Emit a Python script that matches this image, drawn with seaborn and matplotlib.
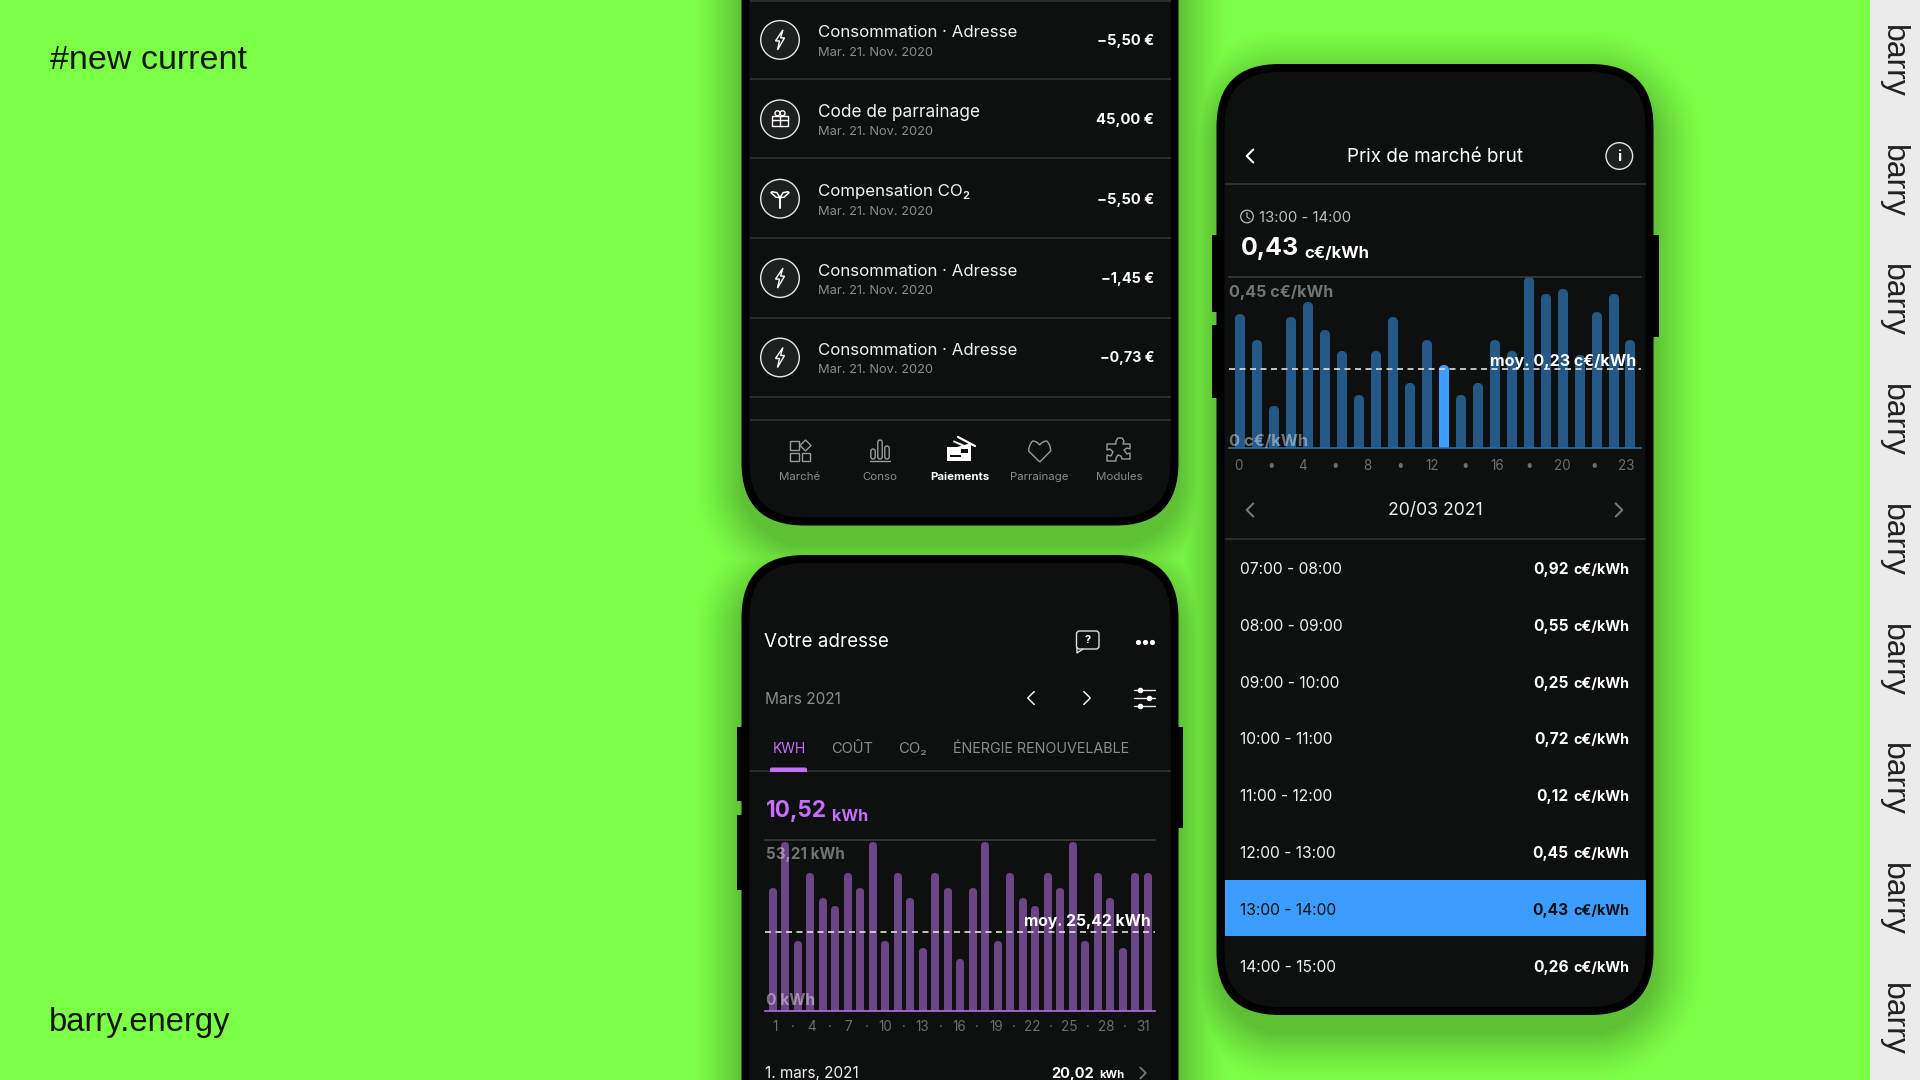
import numpy as np
import matplotlib
matplotlib.use("Agg")
import matplotlib.pyplot as plt
from matplotlib.patches import FancyBboxPatch, Circle, Polygon, Rectangle, PathPatch
from matplotlib.path import Path
import seaborn as sns

# ------------------ data ------------------
HOURS = list(range(24))
PRICES = [0.354, 0.286, 0.113, 0.345, 0.384, 0.312, 0.256, 0.142, 0.256, 0.345, 0.173, 0.286,
          0.221, 0.142, 0.173, 0.286, 0.256, 0.450, 0.405, 0.419, 0.247, 0.360, 0.405, 0.286]
PRICE_LINE = 0.207
PRICE_TICKS = ["0", "•", "4", "•", "8", "•", "12", "•", "16", "•", "20", "•", "23"]
DAYS = list(range(1, 32))
KWH = [38.9, 53.21, 22.2, 43.6, 35.7, 33.2, 43.6, 38.9, 53.21, 22.2, 43.6, 35.7, 20.0, 43.6, 38.9, 16.4,
       38.9, 53.21, 22.2, 43.6, 35.7, 33.2, 43.6, 38.9, 53.21, 22.2, 43.6, 35.7, 20.0, 43.6, 43.6]
KWH_LINE = 24.8
KWH_TICKS = ["1", "·", "4", "·", "7", "·", "10", "·", "13", "·", "16", "·", "19", "·", "22", "·", "25", "·", "28", "·", "31"]
TX_TITLES = ["Consommation · Adresse", "Code de parrainage", "Compensation CO₂", "Consommation · Adresse", "Consommation · Adresse"]
TX_AMOUNTS = ["−5,50 €", "45,00 €", "−5,50 €", "−1,45 €", "−0,73 €"]
TX_ICONS = ["bolt", "gift", "leaf", "bolt", "bolt"]
NAV = ["Marché", "Conso", "Paiements", "Parrainage", "Modules"]
SLOTS = ["07:00 - 08:00", "08:00 - 09:00", "09:00 - 10:00", "10:00 - 11:00", "11:00 - 12:00", "12:00 - 13:00", "13:00 - 14:00", "14:00 - 15:00"]
SLOT_VALUES = ["0,92", "0,55", "0,25", "0,72", "0,12", "0,45", "0,43", "0,26"]

# ------------------ styles ------------------
W, H = 1920, 1080
GREEN = np.array([0x7C, 0xFF, 0x47]) / 255
SCREEN = "#0E1010"
DIV = "#333535"
GREY = "#8C8C8C"
PURPLE = "#C56EFF"
BLUE = "#3B9DFF"
sns.set_theme(style="dark", rc={"axes.grid": False})
plt.rcParams["font.family"] = ["Inter", "DejaVu Sans"]

fig = plt.figure(figsize=(W / 100, H / 100), dpi=100)


def full_axes(z):
    a = fig.add_axes([0, 0, 1, 1], zorder=z)
    a.set_xlim(0, W)
    a.set_ylim(H, 0)
    a.axis("off")
    a.patch.set_alpha(0)
    return a


bg = full_axes(0)
fg = full_axes(2)

# background with soft phone shadows
yy, xx = np.mgrid[0:H, 0:W]


def sd_round(x0, y0, x1, y1, r):
    cx, cy = (x0 + x1) / 2, (y0 + y1) / 2
    qx = np.abs(xx - cx) - (x1 - x0) / 2 + r
    qy = np.abs(yy - cy) - (y1 - y0) / 2 + r
    return np.hypot(np.maximum(qx, 0), np.maximum(qy, 0)) + np.minimum(np.maximum(qx, qy), 0) - r


d = np.minimum.reduce([
    sd_round(741, -120, 1179, 545, 63),
    sd_round(741, 570, 1179, 1300, 63),
    sd_round(1217, 78, 1654, 1032, 63),
])
a = 0.24 * np.clip(1 - d / 48, 0, 1) ** 1.3
img = GREEN[None, None, :] * (1 - a[..., None])
bg.imshow(img, extent=(0, W, H, 0), aspect="auto", zorder=0, interpolation="nearest")
bg.set_xlim(0, W)
bg.set_ylim(H, 0)
bg.add_patch(Rectangle((1870, 0), 50, H, fc="#EBEBEB", ec="none", zorder=1))


def rrect(x0, y0, x1, y1, r, color, ax=bg, z=2):
    ax.add_patch(FancyBboxPatch((x0, y0), x1 - x0, y1 - y0, boxstyle=f"round,pad=0,rounding_size={r}",
                                fc=color, ec="none", zorder=z))


def phone(x0, y0, x1, y1, buttons):
    for bx0, by0, bx1, by1 in buttons:
        bg.add_patch(Rectangle((bx0, by0), bx1 - bx0, by1 - by0, fc="black", ec="none", zorder=2))
    rrect(x0, y0, x1, y1, 63, "black", z=3)
    rrect(x0 + 8, y0 + 8, x1 - 8, y1 - 8, 55, SCREEN, z=4)


phone(741.5, -120, 1178.5, 525.5, [])
phone(741.5, 555, 1178.5, 1300, [(737, 727, 742, 801), (737, 815, 742, 890), (1178, 727, 1183, 828)])
phone(1216.5, 64, 1653.5, 1015, [(1212, 235, 1217, 312), (1212, 325, 1217, 398), (1653, 235, 1659, 337)])

renderer = fig.canvas.get_renderer()


def T(x, y, s, px, color="white", weight="normal", ha="left", va="center", w=None, rot=0, family=None, ax=fg):
    kw = {"family": family} if family else {}
    if va == "center" and rot == 0:
        y = y + 1.3
    t = ax.text(x, y, s, fontsize=px * 0.72, color=color, fontweight=weight, ha=ha, va=va,
                rotation=rot, zorder=10, **kw)
    if w:
        t.set_fontsize(t.get_fontsize() * w / t.get_window_extent(renderer).width)
    return t


def L(xs, ys, color="white", lw=1.0, z=9):
    fg.plot(xs, ys, color=color, lw=lw, solid_capstyle="round", solid_joinstyle="round", zorder=z)


def hline(y, x0, x1, color=DIV, lw=1.1):
    fg.plot([x0, x1], [y, y], color=color, lw=lw, zorder=6, solid_capstyle="butt")


def chevron(x, y, s, color="white", lw=1.3):
    # s > 0 points right, s < 0 points left
    L([x - s * 0.5, x + s * 0.5, x - s * 0.5], [y - abs(s), y, y + abs(s)], color, lw)


# ------------------ left + strip texts ------------------
T(50, 69, "#new current", 34, "#111611", va="baseline", w=197, family="Liberation Sans", ax=bg).set_zorder(6)
T(48.5, 1031.5, "barry.energy", 32, "#111611", va="baseline", w=181, family="Liberation Sans", ax=bg).set_zorder(6)
for i in range(9):
    T(1893, 61.5 + 119.7 * i, "barry", 32, "#222222", ha="center", rot=270, family="Liberation Sans")

# ------------------ top phone ------------------
DIV_Y = [0.5, 78.8, 158.2, 238, 317.8, 397, 419.5]
for y in DIV_Y:
    hline(y, 749.5, 1170.5)


def icon_bolt(cx, cy):
    pts = [(3, -10), (-4.5, 1), (-0.5, 1), (-2.5, 10), (4.5, -2), (0.5, -2)]
    fg.add_patch(Polygon([(cx + p, cy + q) for p, q in pts], closed=True, fc="none", ec="white", lw=1, zorder=9))


def icon_gift(cx, cy):
    fg.add_patch(Rectangle((cx - 8, cy - 3), 16, 10, fc="none", ec="white", lw=1, zorder=9))
    L([cx - 8, cx + 8], [cy + 1, cy + 1])
    L([cx, cx], [cy - 3, cy + 7])
    fg.add_patch(Circle((cx - 2.5, cy - 6), 2.5, fc="none", ec="white", lw=1, zorder=9))
    fg.add_patch(Circle((cx + 2.5, cy - 6), 2.5, fc="none", ec="white", lw=1, zorder=9))


def icon_leaf(cx, cy):
    L([cx, cx], [cy - 1, cy + 9], lw=1.4)
    L([cx, cx - 4, cx - 9, cx - 8, cx - 3, cx], [cy - 1, cy - 1.5, cy - 6, cy - 7, cy - 6, cy - 1], lw=1.1)
    L([cx, cx + 4, cx + 9, cx + 8, cx + 3, cx], [cy - 1, cy - 1.5, cy - 6, cy - 7, cy - 6, cy - 1], lw=1.1)


ICONS = {"bolt": icon_bolt, "gift": icon_gift, "leaf": icon_leaf}
TITLE_W = [199, 161, 152, 199, 199]
AMOUNT_W = [57, 58, 57, 53, 54.5]
for i, (title, amt, ic) in enumerate(zip(TX_TITLES, TX_AMOUNTS, TX_ICONS)):
    base = 79.4 * i
    fg.add_patch(Circle((780, 39.9 + base), 19.3, fc="#1E2020", ec="#E8E8E8", lw=1, zorder=8))
    ICONS[ic](780, 39.9 + base)
    T(817.7, 31.5 + base, title, 17, "#F2F2F2", w=TITLE_W[i])
    T(817.7, 51.5 + base, "Mar. 21. Nov. 2020", 14, GREY, w=116)
    T(1154.3, 39.5 + base, amt, 16, "white", "bold", ha="right", w=AMOUNT_W[i])

NAV_X = [800, 880, 960, 1039.7, 1119]
for x, lab in zip(NAV_X, NAV):
    active = lab == "Paiements"
    T(x, 475.6, lab, 11.5, "white" if active else GREY, "bold" if active else "normal", ha="center")
g = "#9A9A9A"
# market icon
cx, cy = NAV_X[0], 451
fg.add_patch(Rectangle((cx - 10, cy - 10), 8.5, 8.5, fc="none", ec=g, lw=1, zorder=9))
fg.add_patch(Rectangle((cx - 10, cy + 1.5), 8.5, 8.5, fc="none", ec=g, lw=1, zorder=9))
fg.add_patch(Rectangle((cx + 1.5, cy + 1.5), 8.5, 8.5, fc="none", ec=g, lw=1, zorder=9))
fg.add_patch(Polygon([(cx + 5.5, cy - 11), (cx + 11, cy - 5.5), (cx + 5.5, cy), (cx, cy - 5.5)], fc="none", ec=g, lw=1, zorder=9))
# conso icon
cx = NAV_X[1]
for dx, top in ((-7, -2), (0, -11), (7, -5)):
    fg.add_patch(FancyBboxPatch((cx + dx - 2.2, cy + top), 4.4, 8 - top, boxstyle="round,pad=0,rounding_size=2.2",
                                fc="none", ec=g, lw=1, zorder=9))
L([cx - 10, cx + 10], [cy + 10, cy + 10], g, 1)
# payments icon
cx = NAV_X[2]
fg.add_patch(Polygon([(cx - 13, cy - 4), (cx - 3, cy - 4), (cx + 8, cy - 7), (cx + 11, cy - 7), (cx + 11, cy + 10), (cx - 13, cy + 10)],
                     fc="white", ec="none", zorder=9))
fg.add_patch(Rectangle((cx - 10, cy + 4), 11, 1.8, fc=SCREEN, ec="none", zorder=10))
fg.add_patch(Rectangle((cx + 1, cy - 2), 7, 4, fc=SCREEN, ec="none", zorder=10))
L([cx - 2, cx + 15], [cy - 14, cy - 5], "white", 1.6)
L([cx - 6, cx + 9], [cy - 9.5, cy - 3], "white", 1.4)
# heart icon
cx = NAV_X[3]
t = np.array([(0, 11), (-11, 0), (-11, -6), (-7, -10), (-3, -10), (0, -6), (3, -10), (7, -10), (11, -6), (11, 0), (0, 11)], float)
codes = [Path.MOVETO, Path.LINETO, Path.CURVE3, Path.CURVE3, Path.CURVE3, Path.CURVE3, Path.CURVE3, Path.CURVE3, Path.CURVE3, Path.LINETO, Path.LINETO]
fg.add_patch(PathPatch(Path(t + [cx, cy], codes), fc="none", ec=g, lw=1, zorder=9))
# puzzle icon
cx = NAV_X[4]
pz = [(-3, -10), (-1, -13), (3, -13), (5, -10), (4, -7), (11, -7), (11, -2), (8, -3), (5, -1), (8, 3), (11, 2), (11, 8),
      (3, 8), (2, 5), (-1, 4), (-3, 7), (-3, 10), (-12, 10), (-12, 4), (-8, 5), (-6, 1), (-9, -2), (-12, -1), (-12, -7), (-3, -7)]
fg.add_patch(Polygon([(cx + p, cy + q) for p, q in pz], closed=True, fc="none", ec=g, lw=1, joinstyle="round", zorder=9))

# ------------------ bottom phone ------------------
T(764.5, 640.5, "Votre adresse", 19, "white", w=125)
T(765, 698, "Mars 2021", 16, GREY, w=76)
rrect(1076.5, 631, 1099, 649, 3, "none", ax=fg)
fg.patches[-1].set(ec="#E0E0E0", lw=1)
L([1077, 1077, 1083], [648, 653, 649], "#E0E0E0", 1)
T(1088, 639, "?", 11, "white", "bold", ha="center")
fg.scatter([1138, 1145, 1152], [641.5] * 3, s=14, color="white", zorder=9, linewidths=0)
chevron(1031, 698, -6.5, "white", 1)
chevron(1087, 698, 6.5, "white", 1)
for y, x in ((690, 1140), (698, 1149), (706, 1140)):
    L([1134, 1155], [y, y], "#E8E8E8", 1)
    fg.scatter([x], [y], s=16, color="white", zorder=10, linewidths=0)
T(772.3, 748, "KWH", 13, PURPLE, w=33)
T(830.7, 748, "COÛT", 13, GREY, w=42)
T(898.3, 748, "CO₂", 13, GREY, w=29)
T(953, 748, "ÉNERGIE RENOUVELABLE", 13, GREY, w=176)
hline(771, 749.5, 1170.5)
rrect(770, 767.5, 807, 775, 2, PURPLE, ax=fg, z=7)
fg.add_patch(Rectangle((765, 771.5), 50, 8, fc=SCREEN, ec="none", zorder=8))
T(765.5, 810, "10,52", 26, PURPLE, "bold", w=61)
T(832.3, 820.7, "kWh", 17, PURPLE, "bold", va="baseline", w=36)
T(765, 1072.5, "1. mars, 2021", 16, "#EFEFEF", w=94)
T(1094, 1072.5, "20,02", 16, "white", "bold", ha="right", w=43)
T(1099, 1074, "kWh", 13, "white", "bold", w=25)
chevron(1143, 1073, 5.5, "#777777", 1.3)

# ------------------ right phone ------------------
T(1435, 156, "Prix de marché brut", 19, "white", ha="center", w=176)
chevron(1250, 156, -6.5, "white", 1.5)
fg.add_patch(Circle((1619.3, 156), 13.3, fc="#1E2020", ec="#E8E8E8", lw=1, zorder=8))
T(1619.3, 156, "i", 15, "white", "bold", ha="center")
hline(184, 1224.5, 1645.5, lw=1.3)
fg.add_patch(Circle((1247, 216.5), 6.3, fc="none", ec="#BDBDBD", lw=0.9, zorder=9))
L([1247, 1247, 1250], [212.5, 217, 219], "#BDBDBD", 0.8)
T(1259, 217, "13:00 - 14:00", 16, "#BDBDBD", w=93)
T(1240.7, 247.5, "0,43", 28, "white", "bold", w=58)
T(1304, 258, "c€/kWh", 17, "white", "bold", va="baseline", w=65)
T(1435, 509.6, "20/03 2021", 18, "#EFEFEF", ha="center", w=95)
chevron(1250, 510, -6.5, "#777777", 1.5)
chevron(1619, 510, 6.5, "#777777", 1.5)
hline(539.3, 1224.5, 1645.5)
fg.add_patch(Rectangle((1224.5, 879.6), 421, 56.8, fc=BLUE, ec="none", zorder=6))
for i, (slot, val) in enumerate(zip(SLOTS, SLOT_VALUES)):
    y = 568.2 + 56.8 * i
    c = "#0E1010" if slot.startswith("13") else "#EFEFEF"
    c2 = "#0E1010" if slot.startswith("13") else "white"
    T(1240.3, y, slot, 15.6, c)
    T(1568.5, y, val, 15.5, c2, "bold", ha="right")
    T(1629.3, y + 0.5, "c€/kWh", 14, c2, "bold", ha="right", w=56)


# ------------------ charts ------------------
def chart(box, xdata, ydata, ymax, color, spine, line, bar_px, ticks, tick_span, xlim, tick_px, pad_pt, tick_color):
    x0, y0, x1, y1 = box
    ax = fig.add_axes([x0 / W, 1 - y1 / H, (x1 - x0) / W, (y1 - y0) / H], zorder=1)
    ax.patch.set_alpha(0)
    px_per_cat = (x1 - x0) / (xlim[1] - xlim[0])
    lw_px = bar_px - 1
    sns.barplot(x=xdata, y=ydata, color=color, saturation=1, width=1 / px_per_cat, ax=ax,
                linewidth=lw_px * 0.72, edgecolor=color)
    ax.set_xlim(*xlim)
    ax.set_ylim(0, ymax)
    r = (lw_px / 2) * ymax / (y1 - y0)
    for p in ax.patches:
        p.set_joinstyle("round")
        p.set_height(p.get_height() - r)
    ax.axhline(line, color="#E0E0E0", lw=1.2, ls=(0, (3.6, 2.7)), zorder=5)
    for s in ("left", "right"):
        ax.spines[s].set_visible(False)
    ax.spines["top"].set(color="#3E4040", linewidth=1.1)
    ax.spines["bottom"].set(color=spine, linewidth=1.2)
    ax.set_yticks([])
    ax.set_xticks(np.linspace(tick_span[0], tick_span[1], len(ticks)))
    ax.set_xticklabels(ticks, fontsize=tick_px * 0.72, color=tick_color)
    ax.tick_params(axis="x", length=0, pad=pad_pt)
    ax.set_xlabel("")
    ax.set_ylabel("")
    return ax


ax_price = chart((1229, 276.7, 1641, 448.3), HOURS, PRICES, 0.45, "#245886", "#2A6CA8", PRICE_LINE, 10,
                 PRICE_TICKS, (-0.08, 22.8), (-0.63, 23.65), 13.5, 8, "#6E6E6E")
ax_price.patches[12].set(facecolor=BLUE, edgecolor=BLUE)

ax_kwh = chart((765, 840, 1155, 1011), DAYS, KWH, 53.73, "#6B4586", "#B56BE0", KWH_LINE, 8,
               KWH_TICKS, (0.2, 29.66), (-0.584, 30.616), 13.5, 6.5, "#6E6E6E")

# chart annotations
LAB = (1, 1, 1, 0.42)
T(1229, 291.7, "0,45 c€/kWh", 16.5, LAB, "bold", w=104)
T(1229, 440.7, "0 c€/kWh", 16.5, LAB, "bold", w=79)
T(1636.7, 360, "moy. 0,23 c€/kWh", 16.5, "white", "bold", ha="right", w=146)
T(765.5, 853.5, "53,21 kWh", 16.5, LAB, "bold", w=78)
T(765.5, 999.5, "0 kWh", 16.5, LAB, "bold", w=49)
T(1150.5, 920, "moy. 25,42 kWh", 16.5, "white", "bold", ha="right", w=126)

fig.savefig("out.png", dpi=100, facecolor=GREEN)
